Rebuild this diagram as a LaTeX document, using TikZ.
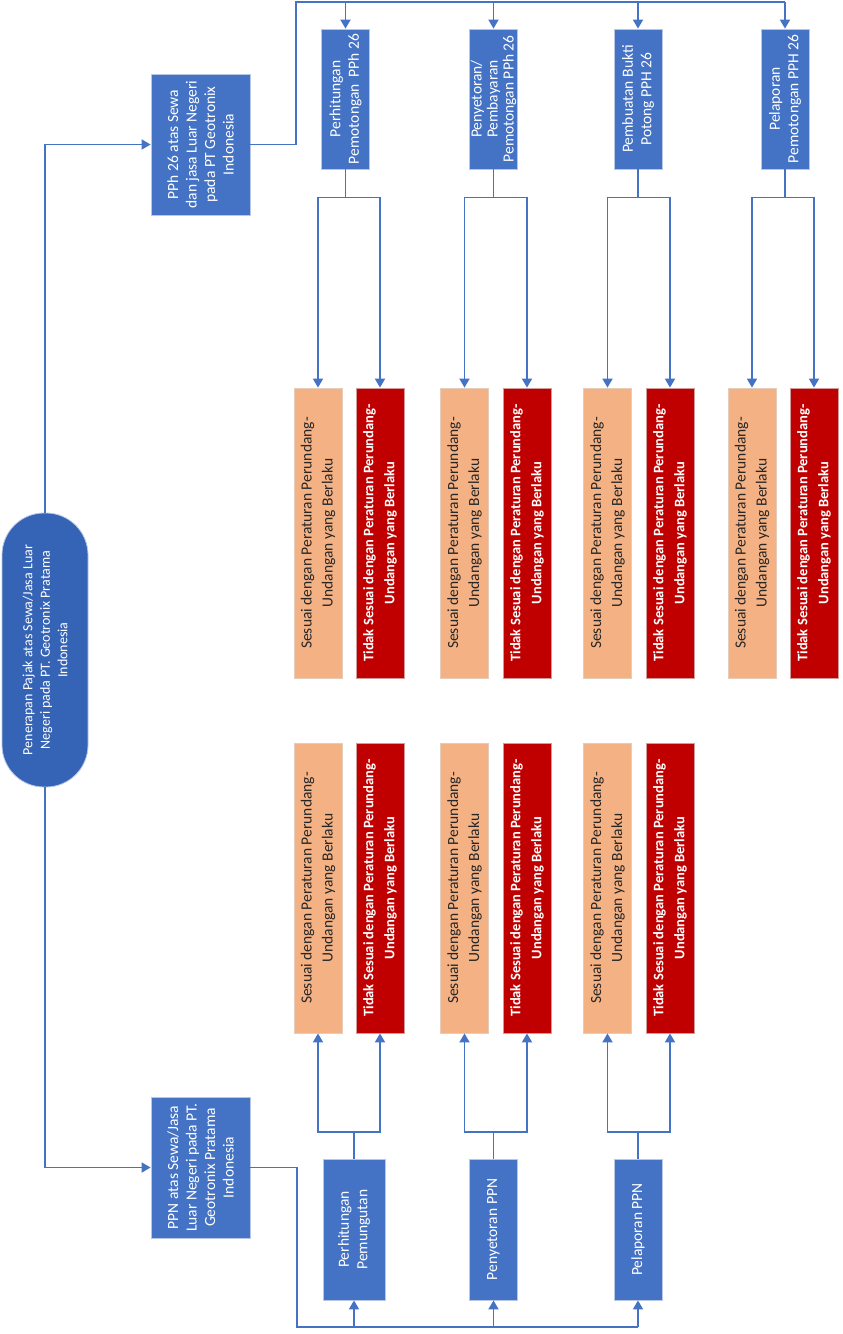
\documentclass[tikz,border=0pt]{standalone}
\usepackage{fontspec}
\setmainfont{Carlito}
\usetikzlibrary{arrows.meta}
\definecolor{bx}{HTML}{4472C4}
\definecolor{rootc}{HTML}{3563B5}
\definecolor{og}{HTML}{F4B183}
\definecolor{rd}{HTML}{C00000}
\definecolor{ln}{HTML}{4472C4}
\definecolor{edge}{HTML}{B8C7E4}
\definecolor{ogedge}{HTML}{E6CDBB}
\definecolor{rdedge}{HTML}{D39A9A}
\definecolor{dtext}{HTML}{262626}
\begin{document}
\begin{tikzpicture}[x=1pt,y=-1pt,
  base/.style={rotate=90, inner sep=0pt, align=center, line width=0.8pt, font=\fontsize{15.5}{18.5}\selectfont},
  bluebox/.style={base, fill=bx, draw=edge, text=white},
  topbox/.style={bluebox, minimum width=140pt, minimum height=48pt},
  okbox/.style={base, fill=og, draw=ogedge, text=dtext, minimum width=290pt, minimum height=48pt, font=\fontsize{15.5}{21}\selectfont},
  badbox/.style={base, fill=rd, draw=rdedge, text=white, minimum width=290pt, minimum height=48pt, font=\bfseries\fontsize{14.5}{21}\selectfont},
  conn/.style={draw=ln, line width=1.8pt},
  arr/.style={conn, -{Triangle[width=10pt,length=9pt]}}]
\useasboundingbox (0,0) rectangle (843,1334);

% root
\node[bluebox, fill=rootc, rounded corners=42pt, minimum width=274pt, minimum height=86pt, font=\fontsize{14}{17.5}\selectfont] (root) at (45,650)
  {Penerapan Pajak atas Sewa/Jasa Luar\\Negeri pada PT. Geotronix Pratama\\Indonesia};

% second level
\node[bluebox, minimum width=141pt, minimum height=99pt] (pph) at (200.5,144.5)
  {PPh 26 atas Sewa\\dan jasa Luar Negeri\\pada PT Geotronix\\Indonesia};
\node[bluebox, minimum width=141pt, minimum height=99pt] (ppn) at (200.5,1167.5)
  {PPN atas Sewa/Jasa\\Luar Negeri pada PT.\\Geotronix Pratama\\Indonesia};

% PPh 26 steps
\node[topbox] (t1) at (345.5,99) {Perhitungan\\Pemotongan\ \ PPh 26};
\node[topbox, font=\fontsize{15.5}{16}\selectfont] (t2) at (493.5,99) {Penyetoran/\\Pembayaran\\Pemotongan PPh 26};
\node[topbox] (t3) at (638,99) {Pembuatan Bukti\\Potong PPH 26};
\node[topbox] (t4) at (785,99) {Pelaporan\\Pemotongan PPH 26};

% PPN steps
\node[bluebox, minimum width=141pt, minimum height=62pt] (p1) at (354,1229.5) {Perhitungan\\Pemungutan};
\node[bluebox, minimum width=141pt, minimum height=48pt] (p2) at (493.5,1229.5) {Penyetoran PPN};
\node[bluebox, minimum width=141pt, minimum height=48pt] (p3) at (638,1229.5) {Pelaporan PPN};

% results (upper)
\foreach \n/\x in {o1/318, o2/464.5, o3/607.5, o4/752}
  \node[okbox] (\n) at (\x,533) {Sesuai dengan Peraturan Perundang-\\Undangan yang Berlaku};
\foreach \n/\x in {r1/380, r2/527, r3/670, r4/814}
  \node[badbox] (\n) at (\x,533) {Tidak Sesuai dengan Peraturan Perundang-\\Undangan yang Berlaku};
% results (lower)
\foreach \n/\x in {lo1/318, lo2/464.5, lo3/607.5}
  \node[okbox] (\n) at (\x,888) {Sesuai dengan Peraturan Perundang-\\Undangan yang Berlaku};
\foreach \n/\x in {lr1/380, lr2/527, lr3/670}
  \node[badbox] (\n) at (\x,888) {Tidak Sesuai dengan Peraturan Perundang-\\Undangan yang Berlaku};

% connectors from root
\draw[arr] (root.east) |- (pph.north);
\draw[arr] (root.west) |- (ppn.north);

% PPh bus
\coordinate (busT) at (296,2);
\draw[conn] (pph.south) -| (busT) -- (t4.east |- busT);
\foreach \t in {t1,t2,t3,t4}
  \draw[arr] (\t.east |- busT) -- (\t.east);
\foreach \t/\o/\r in {t1/o1/r1, t2/o2/r2, t3/o3/r3, t4/o4/r4} {
  \draw[conn] (\t.west) -- ++(0,28) coordinate (f\t);
  \draw[arr] (f\t) -| (\o.east);
  \draw[arr] (f\t) -| (\r.east);
}

% PPN bus
\coordinate (busB) at (297,1327);
\draw[conn] (ppn.south) -| (busB) -- (p3.west |- busB);
\foreach \p in {p1,p2,p3}
  \draw[arr] (\p.west |- busB) -- (\p.west);
\foreach \p/\o/\r in {p1/lo1/lr1, p2/lo2/lr2, p3/lo3/lr3} {
  \draw[conn] (\p.east) -- ++(0,-27) coordinate (g\p);
  \draw[arr] (g\p) -| (\o.west);
  \draw[arr] (g\p) -| (\r.west);
}
\end{tikzpicture}
\end{document}
